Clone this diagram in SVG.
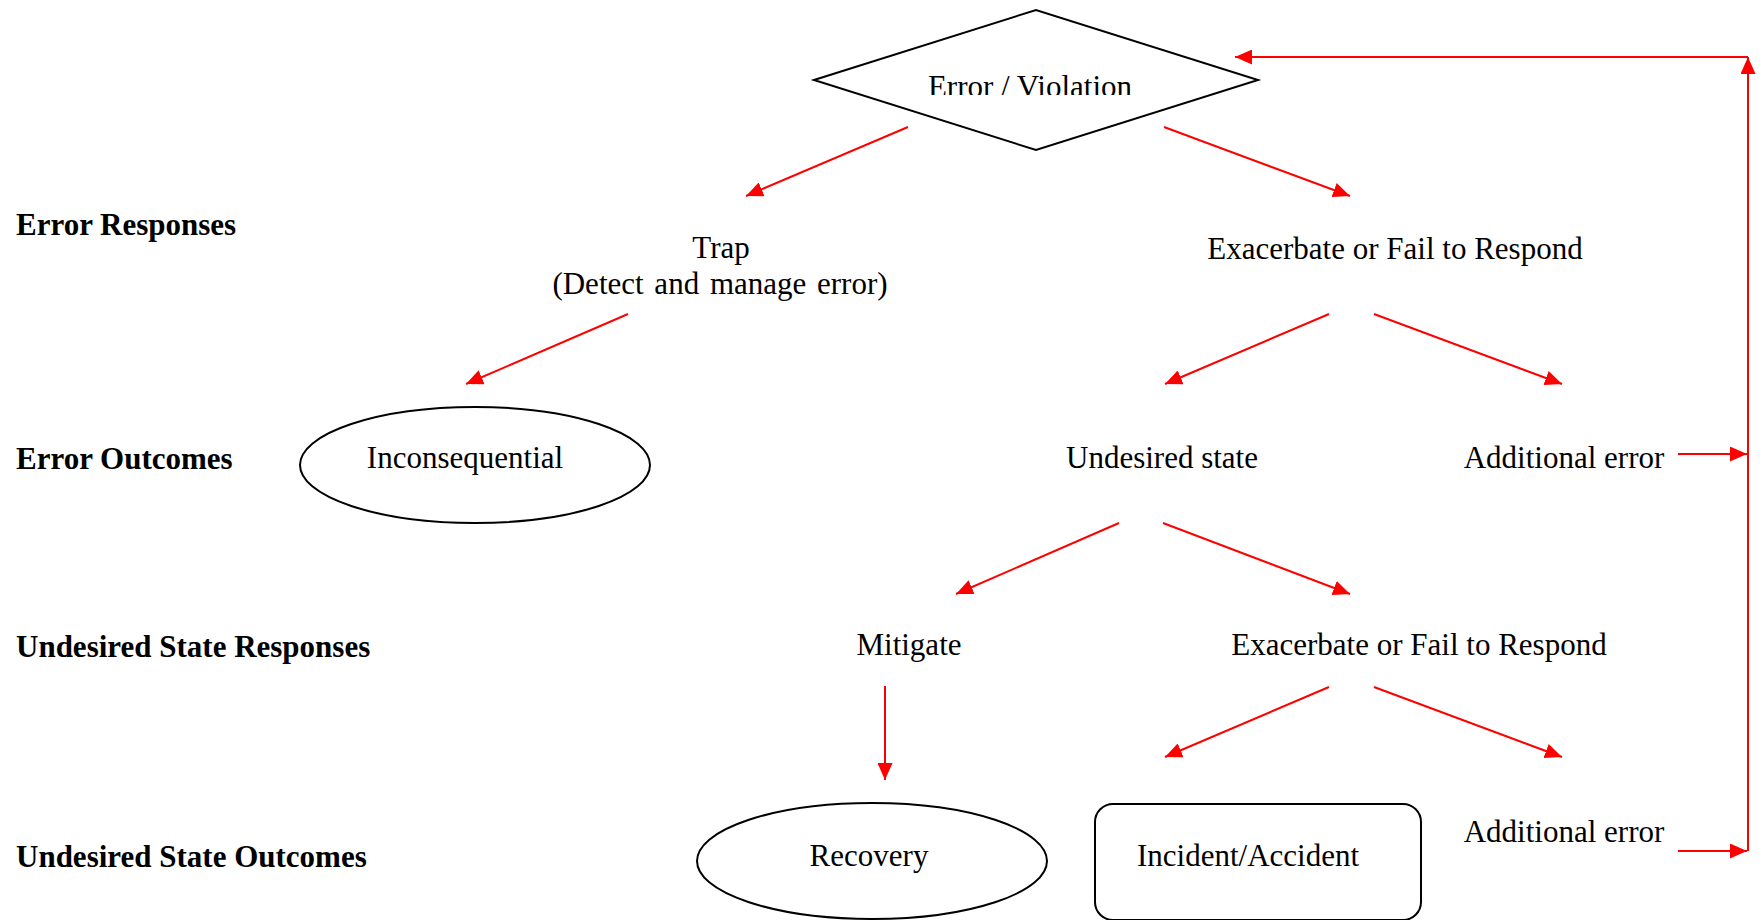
<svg xmlns="http://www.w3.org/2000/svg" width="1764" height="920" viewBox="0 0 1764 920">
<style>
text{font-family:"Liberation Serif","Times New Roman",serif;font-size:31px;fill:#000}
.b{font-weight:bold}
.m{text-anchor:middle}
.shape{fill:#fff;stroke:#000;stroke-width:2}
.c{stroke:#ff0000;stroke-width:2;fill:none}
</style>
<defs>
<marker id="ah" markerUnits="userSpaceOnUse" markerWidth="18" markerHeight="15" refX="17" refY="7.5" orient="auto">
<path d="M0,0 L17,7.5 L0,15 Z" fill="#ff0000"/>
</marker>
<clipPath id="clipEV"><rect x="800" y="0" width="460" height="95"/></clipPath>
</defs>
<rect width="1764" height="920" fill="#fff"/>

<g id="row-labels">
<text class="b" x="16" y="235">Error Responses</text>
<text class="b" x="16" y="469">Error Outcomes</text>
<text class="b" x="16" y="657">Undesired State Responses</text>
<text class="b" x="16" y="867">Undesired State Outcomes</text>
</g>

<g id="error-violation">
<polygon class="shape" points="814,80 1036,10 1258,80 1036,150"/>
<text class="m" x="1030" y="97" clip-path="url(#clipEV)">Error / Violation</text>
</g>
<g id="trap">
<text class="m" x="721" y="258">Trap</text>
<text class="m" x="720" y="294" word-spacing="3">(Detect and manage error)</text>
</g>
<g id="exacerbate-1">
<text class="m" x="1395" y="259">Exacerbate or Fail to Respond</text>
</g>
<g id="inconsequential">
<ellipse class="shape" cx="475" cy="465" rx="175" ry="58"/>
<text class="m" x="465" y="468">Inconsequential</text>
</g>
<g id="undesired-state">
<text class="m" x="1162" y="468">Undesired state</text>
</g>
<g id="additional-error-1">
<text class="m" x="1564" y="468">Additional error</text>
</g>
<g id="mitigate">
<text class="m" x="909" y="655">Mitigate</text>
</g>
<g id="exacerbate-2">
<text class="m" x="1419" y="655">Exacerbate or Fail to Respond</text>
</g>
<g id="recovery">
<ellipse class="shape" cx="872" cy="861" rx="175" ry="58"/>
<text class="m" x="869" y="866">Recovery</text>
</g>
<g id="incident-accident">
<rect class="shape" x="1095" y="804" width="326" height="116" rx="18" ry="18"/>
<text class="m" x="1248" y="866">Incident/Accident</text>
</g>
<g id="additional-error-2">
<text class="m" x="1564" y="842">Additional error</text>
</g>

<g id="connectors">
<line class="c" x1="908" y1="127" x2="746" y2="196" marker-end="url(#ah)"/>
<line class="c" x1="1164" y1="127" x2="1350" y2="196" marker-end="url(#ah)"/>
<line class="c" x1="628" y1="314" x2="466" y2="384" marker-end="url(#ah)"/>
<line class="c" x1="1329" y1="314" x2="1165" y2="384" marker-end="url(#ah)"/>
<line class="c" x1="1374" y1="314" x2="1562" y2="384" marker-end="url(#ah)"/>
<line class="c" x1="1119" y1="523" x2="956" y2="594" marker-end="url(#ah)"/>
<line class="c" x1="1163" y1="523" x2="1350" y2="594" marker-end="url(#ah)"/>
<line class="c" x1="885" y1="686" x2="885" y2="780" marker-end="url(#ah)"/>
<line class="c" x1="1329" y1="687" x2="1165" y2="757" marker-end="url(#ah)"/>
<line class="c" x1="1374" y1="687" x2="1562" y2="757" marker-end="url(#ah)"/>
<line class="c" x1="1678" y1="454" x2="1747" y2="454" marker-end="url(#ah)"/>
<line class="c" x1="1678" y1="851" x2="1747" y2="851" marker-end="url(#ah)"/>
<line class="c" x1="1748" y1="851" x2="1748" y2="57" marker-end="url(#ah)"/>
<line class="c" x1="1748" y1="57" x2="1235" y2="57" marker-end="url(#ah)"/>
</g>
</svg>
